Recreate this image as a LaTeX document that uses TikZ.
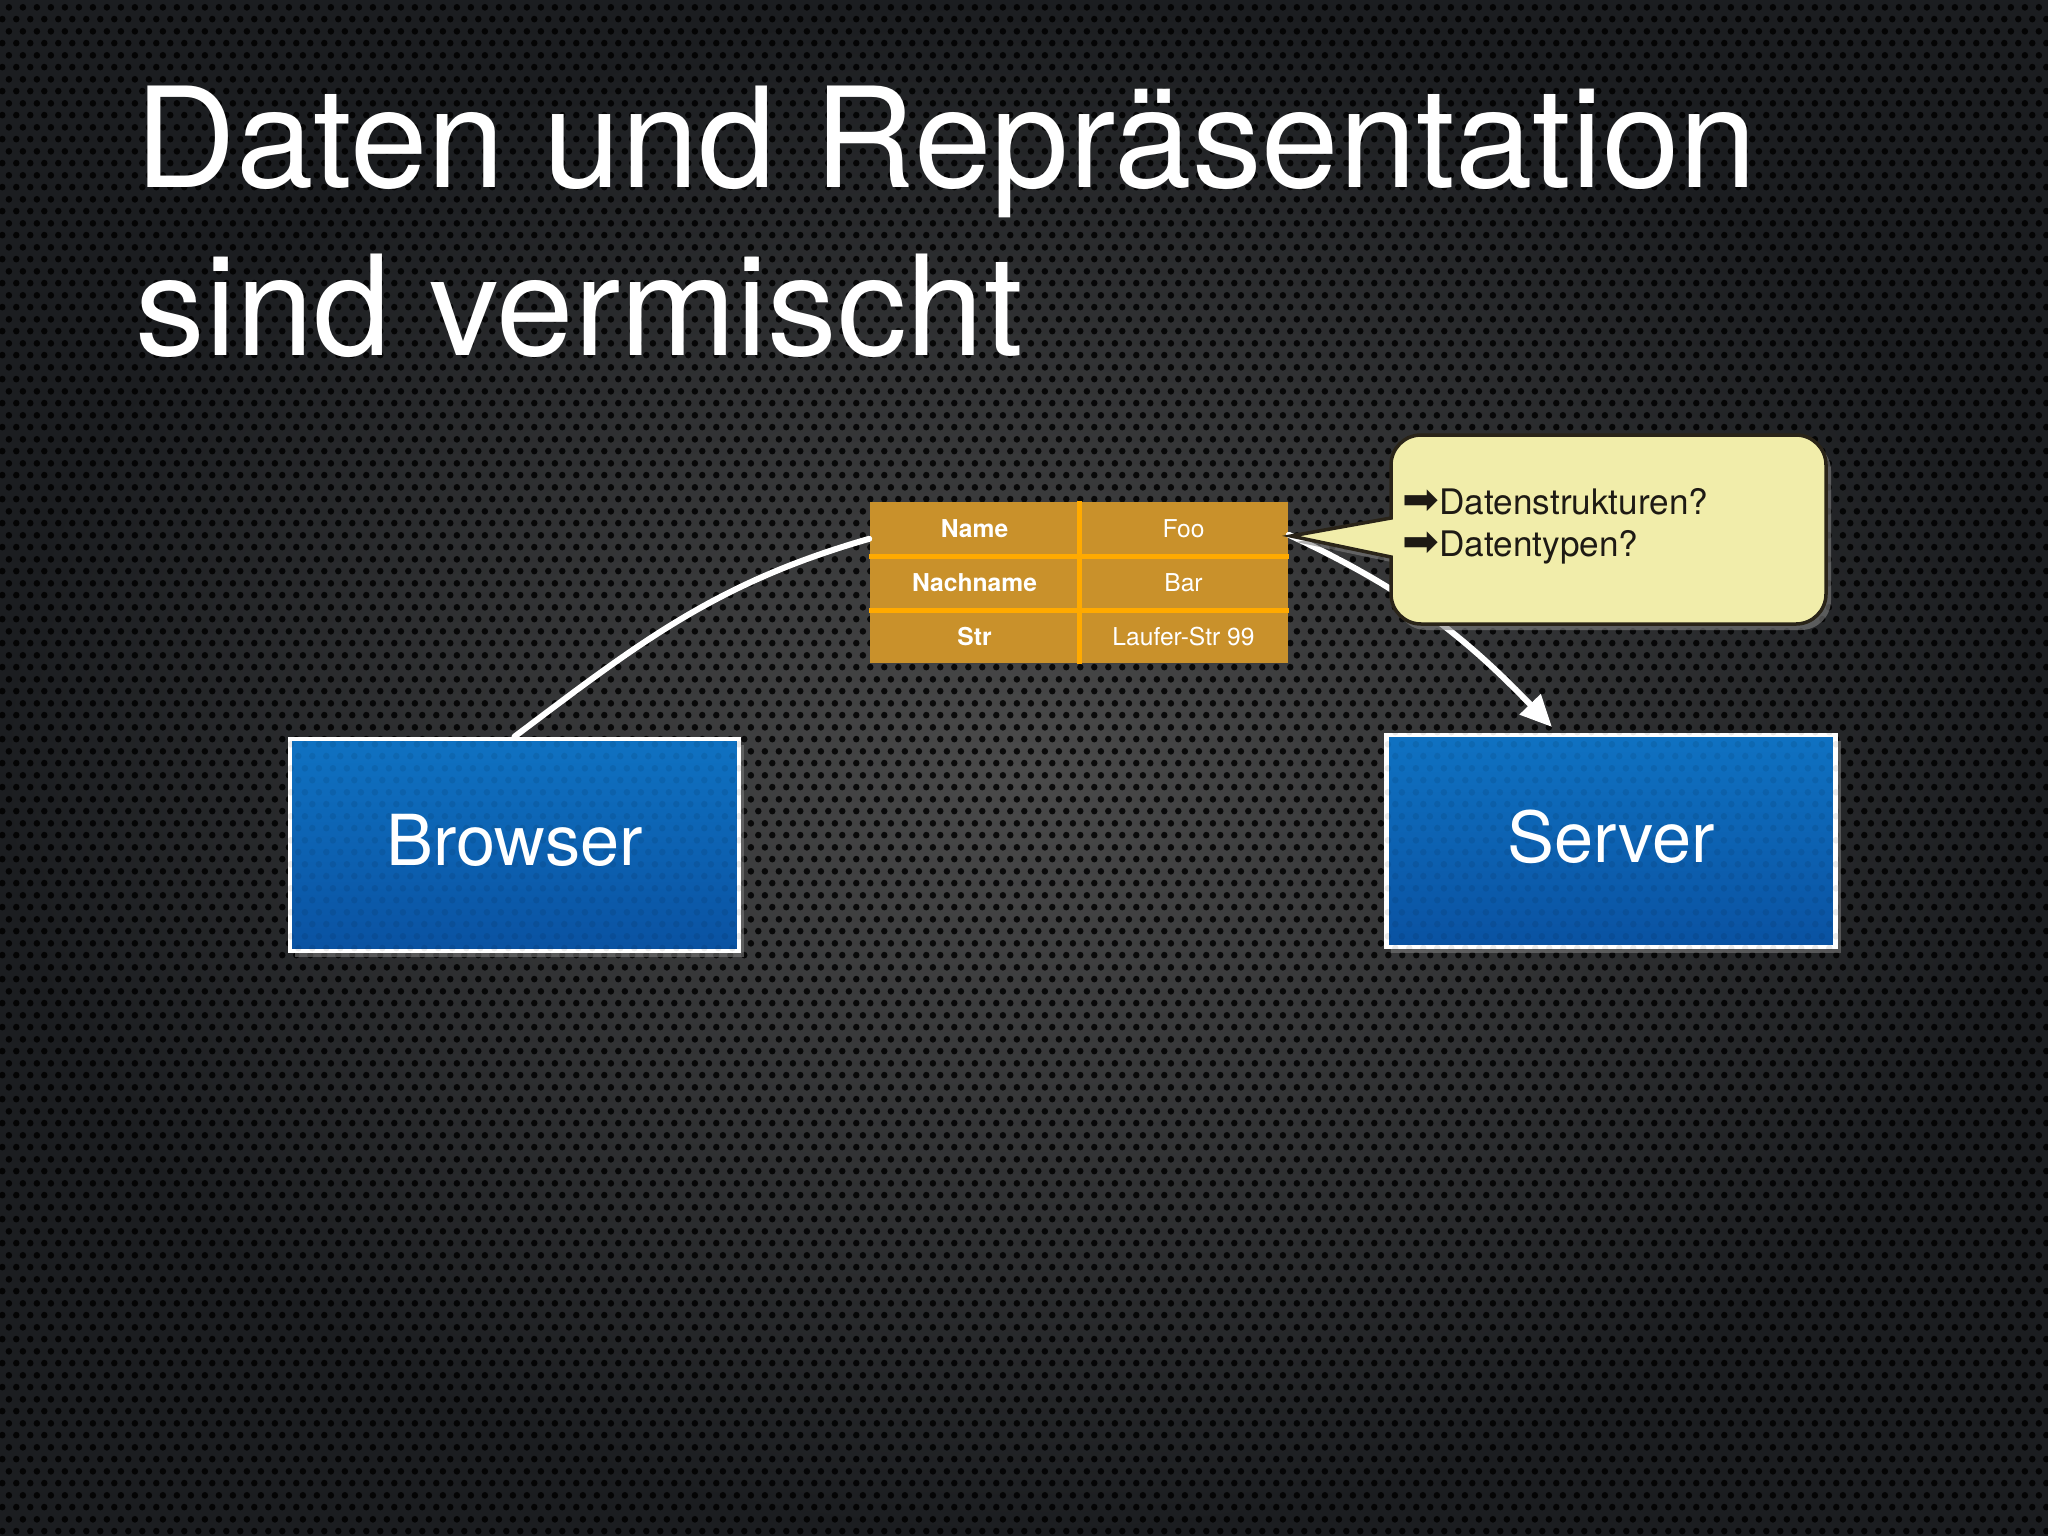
\documentclass[tikz,border=0pt]{standalone}
\usepackage{fontspec}
\setmainfont{TeX Gyre Heros}
\newfontfamily\symfont{DejaVu Sans}
\usetikzlibrary{arrows.meta,shadows,patterns}
\pgfdeclarepatternformonly{hexdots}{\pgfpointorigin}{\pgfpoint{4pt}{6.9pt}}{\pgfpoint{4pt}{6.9pt}}{%
  \pgfpathcircle{\pgfpoint{1pt}{1.725pt}}{0.98pt}%
  \pgfpathcircle{\pgfpoint{3pt}{5.175pt}}{0.98pt}%
  \pgfusepath{fill}}
\definecolor{bginner}{HTML}{4A4A4A}
\definecolor{bgouter}{HTML}{1B1D20}
\definecolor{gold}{HTML}{C9912B}
\definecolor{goldline}{HTML}{FFAA00}
\definecolor{boxtop}{HTML}{0F72C2}
\definecolor{boxbot}{HTML}{0A52A2}
\definecolor{notefill}{HTML}{F1EDAA}
\definecolor{noteline}{HTML}{2A2418}
\definecolor{notetext}{HTML}{1E1A14}
\newcommand{\bularrow}{{\symfont\fontsize{12.5}{12}\selectfont ➡}}
\begin{document}
\begin{tikzpicture}[x=0.01cm,y=-0.01cm,
  titletext/.style={anchor=base west, text=white, font=\fontsize{39.6}{48}\selectfont, inner sep=0pt},
  bluebox/.style={rectangle, draw=white, line width=1.3pt, top color=boxtop, bottom color=boxbot,
    minimum width=4.49cm, minimum height=2.12cm,
    drop shadow={opacity=0.55, shadow xshift=0.05cm, shadow yshift=-0.06cm}},
  boxlabel/.style={text=white, font=\fontsize{20}{24}\selectfont, inner sep=0pt},
  cell/.style={rectangle, fill=gold, minimum width=2.09cm, minimum height=0.537cm, inner sep=0pt,
    text=white, font=\fontsize{7}{8}\selectfont},
  keycell/.style={cell, font=\fontsize{7}{8}\selectfont\bfseries},
  gridline/.style={draw=goldline, line width=1.4pt},
  chalk/.style={draw=white, line width=1.7pt, line cap=round},
  notetxt/.style={anchor=base west, inner sep=0pt, text=notetext, font=\fontsize{10}{12}\selectfont},
]
\useasboundingbox (0,0) rectangle (2048,1536);
% background
\shade[inner color=bginner, outer color=bgouter] (0,0) rectangle (2048,1536);
\fill[pattern=hexdots, pattern color=black, opacity=0.85] (0,0) rectangle (2048,1536);

% title
\node[titletext] (title1) at (135,187) {Daten und Repräsentation};
\node[titletext] (title2) at (135,355) {sind vermischt};

% boxes
\node[bluebox] (brow) at (514.5,845) {};
\node[bluebox] (srv) at (1611,841) {};
\fill[pattern=hexdots, pattern color=black, opacity=0.08] (brow.south west) rectangle (brow.north east);
\fill[pattern=hexdots, pattern color=black, opacity=0.08] (srv.south west) rectangle (srv.north east);
\node[boxlabel] (browl) at (514.5,840) {Browser};
\node[boxlabel] (srvl) at (1611,837) {Server};
\coordinate (srvin) at (1552,727);

% table
\node[keycell] (k1) at (974.5,528.8) {Name};
\node[cell]    (v1) at (1183.5,528.8) {Foo};
\node[keycell] (k2) at (974.5,582.5) {Nachname};
\node[cell]    (v2) at (1183.5,582.5) {Bar};
\node[keycell] (k3) at (974.5,636.2) {Str};
\node[cell]    (v3) at (1183.5,636.2) {Laufer-Str 99};
\draw[gridline] (k1.north east) -- (k3.south east);
\draw[gridline] (k1.south west) -- (v1.south east);
\draw[gridline] (k2.south west) -- (v2.south east);

% connectors
\draw[chalk] (brow.north) to[out=37,in=196] ([yshift=-0.1cm]k1.west);
\draw[chalk, -{Triangle[length=9pt,width=8pt]}] ([yshift=-0.06cm]v1.east) to[out=-25,in=134] (srvin);

% callout
\path[fill=notefill, draw=noteline, line width=1pt,
  drop shadow={opacity=0.6, shadow xshift=0.05cm, shadow yshift=-0.06cm}]
  (1391,557) -- (1291,536) -- (1391,518) [rounded corners=0.3cm] -- (1391,435) -- (1826,435)
  -- (1826,624) -- (1391,624) [sharp corners] -- cycle;
\node[notetxt] (q1) at (1402,514) {\bularrow Datenstrukturen?};
\node[notetxt] (q2) at (1402,556) {\bularrow Datentypen?};
\end{tikzpicture}
\end{document}
